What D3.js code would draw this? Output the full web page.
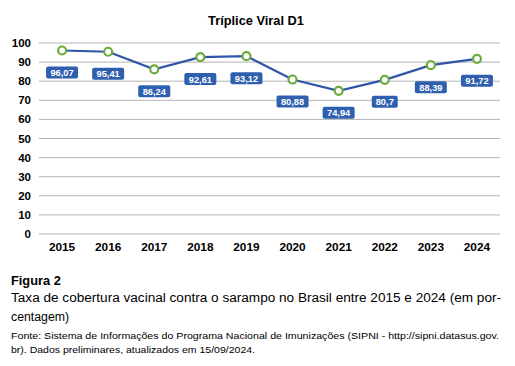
<!DOCTYPE html>
<html>
<head>
<meta charset="utf-8">
<script src="https://cdn.jsdelivr.net/npm/d3@7"></script>
<style>
  body { margin: 0; background: #fff; }
  svg text { font-family: "Liberation Sans", Arial, sans-serif; }
</style>
</head>
<body>
<div id="container"></div>
<script>
// years and coverage (%)
var years = ["2015", "2016", "2017", "2018", "2019", "2020", "2021", "2022", "2023", "2024"];
var coverage = [96.07, 95.41, 86.24, 92.61, 93.12, 80.88, 74.94, 80.7, 88.39, 91.72];
var yTicks = [0, 10, 20, 30, 40, 50, 60, 70, 80, 90, 100];

var width = 515;
var height = 366;

var svg = d3.select("#container")
    .append("svg")
    .attr("width", width)
    .attr("height", height);

// scales
var x = d3.scaleBand()
    .domain(years)
    .range([39, 500]);

var y = d3.scaleLinear()
    .domain([0, 100])
    .range([234, 43]);

// title
svg.append("text")
    .attr("x", 256)
    .attr("y", 25)
    .attr("text-anchor", "middle")
    .attr("font-size", "12.8px")
    .attr("font-weight", "bold")
    .text("Tríplice Viral D1");

// gridlines
svg.append("g")
    .selectAll("line")
    .data(yTicks)
    .enter()
    .append("line")
    .attr("x1", 39)
    .attr("x2", 500)
    .attr("y1", d => y(d))
    .attr("y2", d => y(d))
    .attr("stroke", "#b3b3b3")
    .attr("stroke-width", 1);

// y axis labels
svg.append("g")
    .selectAll("text")
    .data(yTicks)
    .enter()
    .append("text")
    .attr("x", 31)
    .attr("y", d => y(d) + 4)
    .attr("text-anchor", "end")
    .attr("font-size", "11.5px")
    .attr("font-weight", "bold")
    .text(d => d);

// x axis labels
svg.append("g")
    .selectAll("text")
    .data(years)
    .enter()
    .append("text")
    .attr("x", d => x(d) + x.bandwidth() / 2)
    .attr("y", 251)
    .attr("text-anchor", "middle")
    .attr("font-size", "11.8px")
    .attr("font-weight", "bold")
    .text(d => d);

var points = years.map((yr, i) => ({ year: yr, value: coverage[i] }));

// line
var line = d3.line()
    .x(d => x(d.year) + x.bandwidth() / 2)
    .y(d => y(d.value));

svg.append("path")
    .datum(points)
    .attr("d", line)
    .attr("fill", "none")
    .attr("stroke", "#2f55a8")
    .attr("stroke-width", 2.2);

// markers
svg.append("g")
    .selectAll("circle")
    .data(points)
    .enter()
    .append("circle")
    .attr("cx", d => x(d.year) + x.bandwidth() / 2)
    .attr("cy", d => y(d.value))
    .attr("r", 4)
    .attr("fill", "#fff")
    .attr("stroke", "#6cab3c")
    .attr("stroke-width", 2.2);

// value labels
var labels = svg.append("g")
    .selectAll("g")
    .data(points)
    .enter()
    .append("g")
    .attr("transform", d => `translate(${x(d.year) + x.bandwidth() / 2},${y(d.value) + 22})`);

labels.append("rect")
    .attr("x", d => d.value === 80.7 ? -13 : -16)
    .attr("y", -6)
    .attr("width", d => d.value === 80.7 ? 26 : 32)
    .attr("height", 12)
    .attr("rx", 2)
    .attr("fill", "#2f5faf");

labels.append("text")
    .attr("y", 3.5)
    .attr("text-anchor", "middle")
    .attr("font-size", "9.3px")
    .attr("font-weight", "bold")
    .attr("fill", "#fff")
    .text(d => String(d.value).replace(".", ","));

// caption
svg.append("text")
    .attr("x", 11)
    .attr("y", 285)
    .attr("font-size", "12.8px")
    .attr("font-weight", "bold")
    .text("Figura 2");

svg.append("text")
    .attr("x", 11)
    .attr("y", 302)
    .attr("font-size", "12.3px")
    .attr("textLength", 490)
    .attr("lengthAdjust", "spacingAndGlyphs")
    .text("Taxa de cobertura vacinal contra o sarampo no Brasil entre 2015 e 2024 (em por-");

svg.append("text")
    .attr("x", 11)
    .attr("y", 321)
    .attr("font-size", "12.3px")
    .text("centagem)");

svg.append("text")
    .attr("x", 11)
    .attr("y", 339)
    .attr("font-size", "9.8px")
    .attr("textLength", 488)
    .attr("lengthAdjust", "spacingAndGlyphs")
    .text("Fonte: Sistema de Informações do Programa Nacional de Imunizações (SIPNI - http://sipni.datasus.gov.");

svg.append("text")
    .attr("x", 11)
    .attr("y", 352.5)
    .attr("font-size", "9.8px")
    .attr("textLength", 244)
    .attr("lengthAdjust", "spacingAndGlyphs")
    .text("br). Dados preliminares, atualizados em 15/09/2024.");
</script>
</body>
</html>
